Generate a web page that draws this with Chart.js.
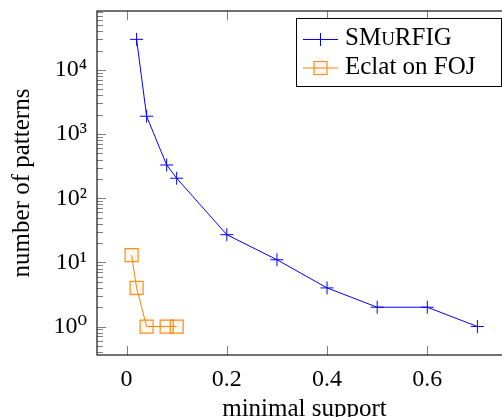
<!DOCTYPE html>
<html>
<head>
<meta charset="utf-8">
<script src="https://cdn.jsdelivr.net/npm/chart.js@4/dist/chart.umd.min.js"></script>
<style>
  html, body { margin: 0; padding: 0; background: #fff; overflow: hidden; }
  #wrap { width: 502px; height: 417px; overflow: hidden; position: relative; }
  #inner { width: 512px; height: 417px; position: absolute; left: 0; top: 0; }
  canvas { display: block; }
</style>
</head>
<body>
<div id="wrap"><div id="inner"><canvas id="chart" width="512" height="417" style="width:512px;height:417px"></canvas></div></div>
<script>
// data
const seriesNames = ['SMuRFIG', 'Eclat on FOJ'];
const smurfigSupport = [0.02, 0.04, 0.08, 0.1, 0.2, 0.3, 0.4, 0.5, 0.6, 0.7];
const smurfigCounts = [30000, 1900, 330, 205, 27, 11, 4, 2, 2, 1];
const eclatSupport = [0.01, 0.02, 0.04, 0.08, 0.1];
const eclatCounts = [13, 4, 1, 1, 1];
const xTickValues = [0, 0.2, 0.4, 0.6];
const yTickValues = [1, 10, 100, 1000, 10000];

const FONT = "'Liberation Serif', 'DejaVu Serif', serif";
const SUP = '⁰¹²³⁴⁵⁶⁷⁸⁹';

function toPoints(xs, ys) {
    return xs.map((x, i) => ({ x, y: ys[i] }));
}

function powerLabel(value) {
    const e = Math.round(Math.log10(value));
    const digits = String(e).split('').map(d => SUP[+d]).join('');
    return '10' + digits;
}

// pgfplots style frame with ticks drawn inward
const framePlugin = {
    id: 'frame',
    beforeDatasetsDraw(chart) {
        const { ctx, chartArea: a, scales } = chart;
        const xs = scales.x, ys = scales.y;
        ctx.save();
        ctx.strokeStyle = '#7f7f7f';
        ctx.lineWidth = 1;
        ctx.beginPath();
        xTickValues.forEach(v => {
            const px = Math.round(xs.getPixelForValue(v)) + 0.5;
            ctx.moveTo(px, a.top); ctx.lineTo(px, a.top + 9);
            ctx.moveTo(px, a.bottom); ctx.lineTo(px, a.bottom - 9);
        });
        for (let d = -1; d <= 5; d++) {
            for (let m = 1; m <= 9; m++) {
                const v = m * Math.pow(10, d);
                if (v < ys.min || v > ys.max) continue;
                const len = m === 1 ? 9 : 6;
                const py = Math.round(ys.getPixelForValue(v)) + 0.5;
                ctx.moveTo(a.left, py); ctx.lineTo(a.left + len, py);
                ctx.moveTo(a.right, py); ctx.lineTo(a.right - len, py);
            }
        }
        ctx.stroke();
        ctx.strokeStyle = '#262626';
        ctx.lineWidth = 1.3;
        ctx.strokeRect(a.left, a.top, a.right - a.left, a.bottom - a.top);
        ctx.restore();
    },
    afterDraw(chart) {
        const { ctx } = chart;
        const boxL = 296.5, boxT = 18.5, boxR = 501.5, boxB = 86.5;
        ctx.save();
        ctx.fillStyle = '#fff';
        ctx.fillRect(boxL, boxT, boxR - boxL, boxB - boxT);
        ctx.strokeStyle = '#000';
        ctx.lineWidth = 1;
        ctx.strokeRect(boxL, boxT, boxR - boxL, boxB - boxT);

        const rows = [39.5, 68];
        chart.data.datasets.forEach((ds, i) => {
            const y = rows[i];
            ctx.strokeStyle = ds.borderColor;
            ctx.lineWidth = 1;
            ctx.beginPath();
            ctx.moveTo(303, y); ctx.lineTo(338, y);
            ctx.stroke();
            ctx.fillStyle = ds.pointBackgroundColor;
            ctx.strokeStyle = ds.pointBorderColor;
            ctx.lineWidth = ds.pointBorderWidth;
            Chart.helpers.drawPoint(ctx, { pointStyle: ds.pointStyle, radius: ds.pointRadius, borderWidth: ds.pointBorderWidth }, 320.5, y);
        });

        ctx.fillStyle = '#000';
        ctx.textBaseline = 'alphabetic';
        ctx.textAlign = 'left';
        // SMuRFIG with a small-cap u
        let x = 345;
        const base1 = rows[0] + 5.5;
        ctx.font = `25px ${FONT}`;
        ctx.fillText('SM', x, base1); x += ctx.measureText('SM').width;
        ctx.font = `19px ${FONT}`;
        ctx.fillText('U', x, base1); x += ctx.measureText('U').width;
        ctx.font = `25px ${FONT}`;
        ctx.fillText('RFIG', x, base1);
        ctx.fillText(seriesNames[1], 345, rows[1] + 5.5);
        ctx.restore();
    }
};

new Chart(document.getElementById('chart'), {
    type: 'scatter',
    data: {
        datasets: [
            {
                label: seriesNames[0],
                data: toPoints(smurfigSupport, smurfigCounts),
                showLine: true,
                borderColor: '#0000ff',
                borderWidth: 1,
                pointStyle: 'cross',
                pointRadius: 6.5,
                pointBorderWidth: 1,
                pointBorderColor: '#0000ff',
                pointBackgroundColor: '#0000ff'
            },
            {
                label: seriesNames[1],
                data: toPoints(eclatSupport, eclatCounts),
                showLine: true,
                borderColor: '#ff8000',
                borderWidth: 1,
                pointStyle: 'rect',
                pointRadius: 9.2,
                pointBorderWidth: 1.2,
                pointBorderColor: '#ff8c1a',
                pointBackgroundColor: 'rgba(255,128,0,0.06)'
            }
        ]
    },
    options: {
        responsive: false,
        animation: false,
        layout: { autoPadding: false, padding: { top: 11, right: 0, left: 0, bottom: 0 } },
        plugins: { legend: { display: false }, tooltip: { enabled: false } },
        scales: {
            x: {
                type: 'linear',
                min: -0.059,
                max: 0.769,
                grid: { display: false, drawTicks: false },
                border: { display: false },
                afterBuildTicks: s => { s.ticks = xTickValues.map(v => ({ value: v })); },
                afterFit: s => { s.height = 62; s.paddingLeft = 0; s.paddingRight = 0; },
                ticks: {
                    autoSkip: false,
                    maxRotation: 0,
                    padding: 10,
                    color: '#000',
                    font: { family: FONT, size: 24 },
                    callback: v => String(v)
                },
                title: {
                    display: true,
                    text: 'minimal support',
                    color: '#000',
                    font: { family: FONT, size: 25, lineHeight: 1 },
                    padding: { top: 0, bottom: -5 }
                }
            },
            y: {
                type: 'logarithmic',
                min: 0.36,
                max: 83000,
                grid: { display: false, drawTicks: false },
                border: { display: false },
                afterBuildTicks: s => { s.ticks = yTickValues.map(v => ({ value: v })); },
                afterFit: s => { s.width = 97; s.paddingTop = 0; s.paddingBottom = 0; },
                ticks: {
                    autoSkip: false,
                    padding: 10,
                    color: '#000',
                    font: { family: FONT, size: 24 },
                    callback: v => powerLabel(v)
                },
                title: {
                    display: true,
                    text: 'number of patterns',
                    color: '#000',
                    font: { family: FONT, size: 25, lineHeight: 1 },
                    padding: { top: 10, bottom: 0 }
                }
            }
        }
    },
    plugins: [framePlugin]
});
</script>
</body>
</html>
